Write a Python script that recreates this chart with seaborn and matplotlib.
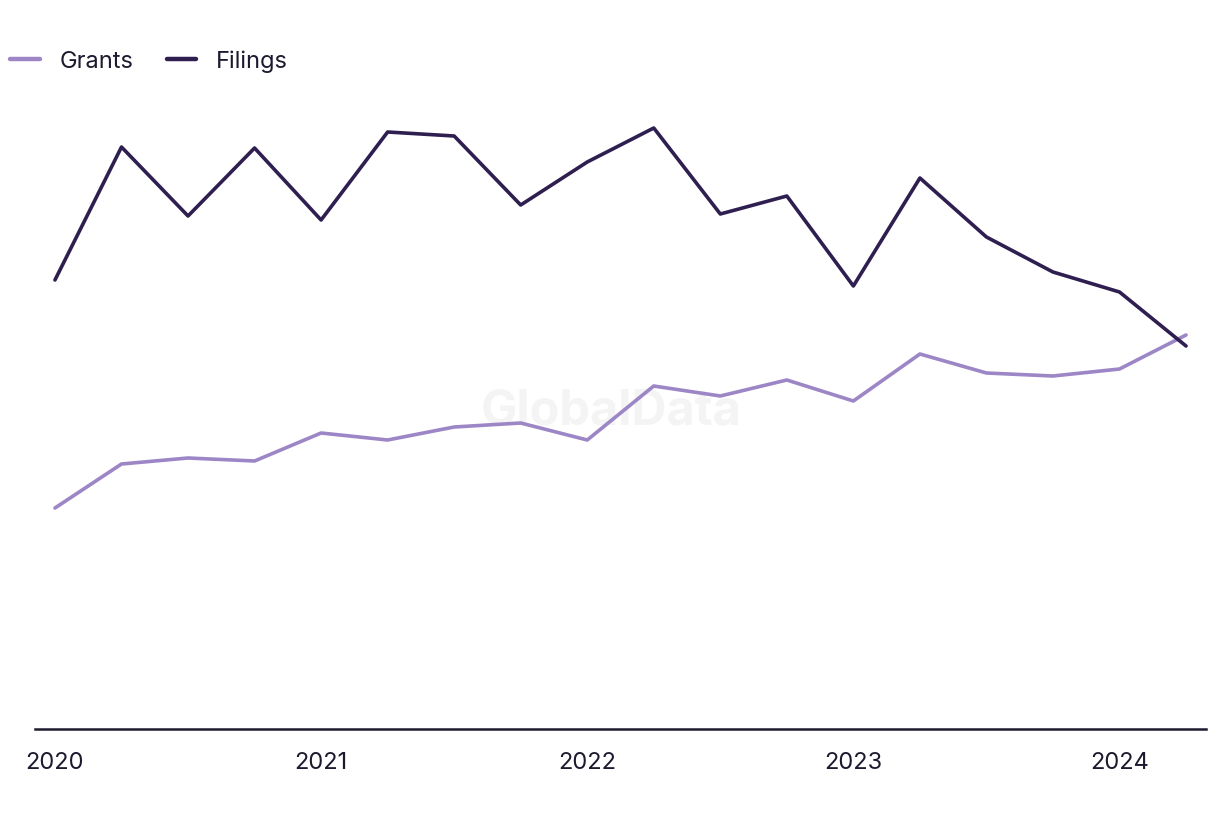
import numpy as np
import pandas as pd
import seaborn as sns
import matplotlib.pyplot as plt

# quarterly, 2020 Q1 .. 2024 Q2
quarters = list(range(18))
grants = [221, 265, 271, 268, 296, 289, 302, 306, 289, 343, 333, 349, 328, 375, 356, 353, 360, 394]
filings = [449, 582, 513, 581, 509, 597, 593, 524, 567, 601, 515, 533, 443, 551, 492, 457, 437, 383]
year_ticks = [0, 4, 8, 12, 16]
year_labels = ["2020", "2021", "2022", "2023", "2024"]

df = pd.DataFrame({
    "quarter": quarters * 2,
    "value": grants + filings,
    "series": ["Grants"] * len(grants) + ["Filings"] * len(filings),
})

sns.set_theme(style="white")
plt.rcParams["font.family"] = ["Inter", "DejaVu Sans"]
text_col = "#1b1a2e"

fig = plt.figure(figsize=(12.2, 8.2), dpi=100)
ax = fig.add_axes([35 / 1220, 1 - 730 / 820, (1206 - 35) / 1220, 630 / 820])

sns.lineplot(data=df, x="quarter", y="value", hue="series",
             palette={"Grants": "#9d86c6", "Filings": "#2f1f50"},
             linewidth=2.6, ax=ax, legend=False)

ax.text(0.492, 0.505, "GlobalData", transform=ax.transAxes, ha="center", va="center",
        fontsize=35, fontweight="bold", color="#f4f4f4", zorder=0)

ax.set_xlim(-0.3, 17.3)
ax.set_ylim(0, 630)
ax.set_xticks(year_ticks)
ax.set_xticklabels(year_labels, fontsize=17, color=text_col)
ax.set_yticks([])
ax.set_xlabel("")
ax.set_ylabel("")
ax.tick_params(axis="x", length=0, pad=16)
for s in ["top", "right", "left"]:
    ax.spines[s].set_visible(False)
ax.spines["bottom"].set_color(text_col)
ax.spines["bottom"].set_linewidth(1.8)

handles = [plt.Line2D([], [], color="#9d86c6", lw=3.2),
           plt.Line2D([], [], color="#2f1f50", lw=3.2)]
fig.legend(handles, ["Grants", "Filings"], loc="center left",
           bbox_to_anchor=(10 / 1220, 1 - 62 / 820), ncol=2, frameon=False,
           fontsize=17, labelcolor=text_col, handlelength=1.25,
           handletextpad=0.85, columnspacing=1.4, borderaxespad=0,
           borderpad=0)

fig.savefig("out.png", dpi=100)
